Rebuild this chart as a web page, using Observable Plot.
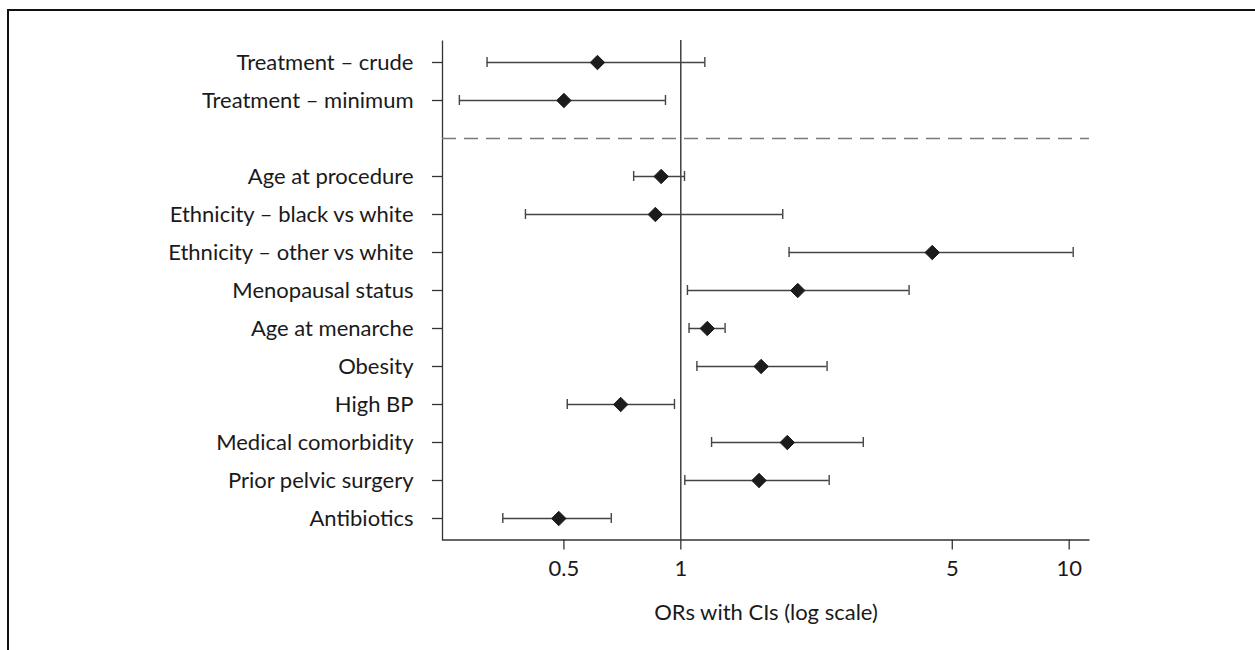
<!DOCTYPE html>
<html>
<head>
<meta charset="utf-8">
<script src="https://cdn.jsdelivr.net/npm/d3@7"></script>
<script src="https://cdn.jsdelivr.net/npm/@observablehq/plot@0.6"></script>
<style>
  html, body { margin: 0; padding: 0; background: #fff; }
  #wrap { position: relative; width: 1255px; height: 650px; overflow: hidden; }
  #border { position: absolute; left: 7px; top: 9px; width: 1300px; height: 700px;
            border-left: 2px solid #111; border-top: 2px solid #111; pointer-events: none; }
</style>
</head>
<body>
<div id="wrap"><div id="border"></div></div>
<script>
// Data
const labels = [
  "Treatment – crude",
  "Treatment – minimum",
  "Age at procedure",
  "Ethnicity – black vs white",
  "Ethnicity – other vs white",
  "Menopausal status",
  "Age at menarche",
  "Obesity",
  "High BP",
  "Medical comorbidity",
  "Prior pelvic surgery",
  "Antibiotics"
];
const oddsRatio = [0.61, 0.50, 0.89, 0.86, 4.44, 2.00, 1.17, 1.61, 0.70, 1.88, 1.59, 0.485];
const lowerCI   = [0.317, 0.269, 0.756, 0.398, 1.90, 1.04, 1.05, 1.10, 0.51, 1.20, 1.024, 0.348];
const upperCI   = [1.153, 0.913, 1.022, 1.83, 10.24, 3.87, 1.30, 2.38, 0.963, 2.95, 2.41, 0.662];
const gapRow = " ";               // empty row holding the dashed separator
const gapAfter = 2;               // inserted after the two treatment rows
const xTicks = [0.5, 1, 5, 10];
const xTickLabels = ["0.5", "1", "5", "10"];
const xDomain = [0.2434, 11.28];
const refValue = 1;
const xLabel = "ORs with CIs (log scale)";

const data = labels.map((label, i) => ({label, or: oddsRatio[i], lo: lowerCI[i], hi: upperCI[i]}));
const yDomain = [...labels.slice(0, gapAfter), gapRow, ...labels.slice(gapAfter)];

const W = 1255, H = 650, mL = 442, mR = 166, mT = 40, mB = 110.5;
const fw = W - mL - mR, fh = H - mT - mB;
const font = "Lato, 'Open Sans', sans-serif";
const ink = "#1a1a1a";

const chart = Plot.plot({
  width: W,
  height: H,
  marginLeft: mL,
  marginRight: mR,
  marginTop: mT,
  marginBottom: mB,
  style: {fontFamily: font, fontSize: "22px", color: ink, background: "transparent"},
  x: {type: "log", domain: xDomain},
  y: {type: "band", domain: yDomain, padding: 0},
  marks: [
    // L-shaped frame (bottom + left edges only)
    Plot.frame({stroke: "#333", strokeWidth: 1.3, strokeDasharray: `0 ${fw + fh} ${fw + fh}`}),
    Plot.ruleY([gapRow], {y: d => d, stroke: "#7a7a7a", strokeWidth: 1.7, strokeDasharray: "14,8"}),
    Plot.ruleX([refValue], {stroke: "#111", strokeWidth: 1.2}),
    Plot.ruleY(data, {y: "label", x1: "lo", x2: "hi", stroke: "#444", strokeWidth: 1.6}),
    Plot.tickX(data, {y: "label", x: "lo", stroke: "#444", strokeWidth: 1.4, insetTop: 14, insetBottom: 14}),
    Plot.tickX(data, {y: "label", x: "hi", stroke: "#444", strokeWidth: 1.4, insetTop: 14, insetBottom: 14}),
    Plot.dot(data, {y: "label", x: "or", symbol: "diamond2", r: 6.5, fill: "#1c1c1c", stroke: "#1c1c1c", strokeWidth: 1}),
    Plot.axisY({ticks: labels, tickSize: 10, tickPadding: 19, stroke: "#333",
                strokeWidth: 1.3, label: null, fontSize: 22, fill: ink}),
    Plot.axisX({ticks: xTicks, tickFormat: (d) => xTickLabels[xTicks.indexOf(d)], tickSize: 10,
                tickPadding: 10, stroke: "#333", strokeWidth: 1.3, fontSize: 22, fill: ink,
                label: xLabel, labelAnchor: "center", labelArrow: "none", labelOffset: 80})
  ]
});
document.getElementById("wrap").prepend(chart);
</script>
</body>
</html>
